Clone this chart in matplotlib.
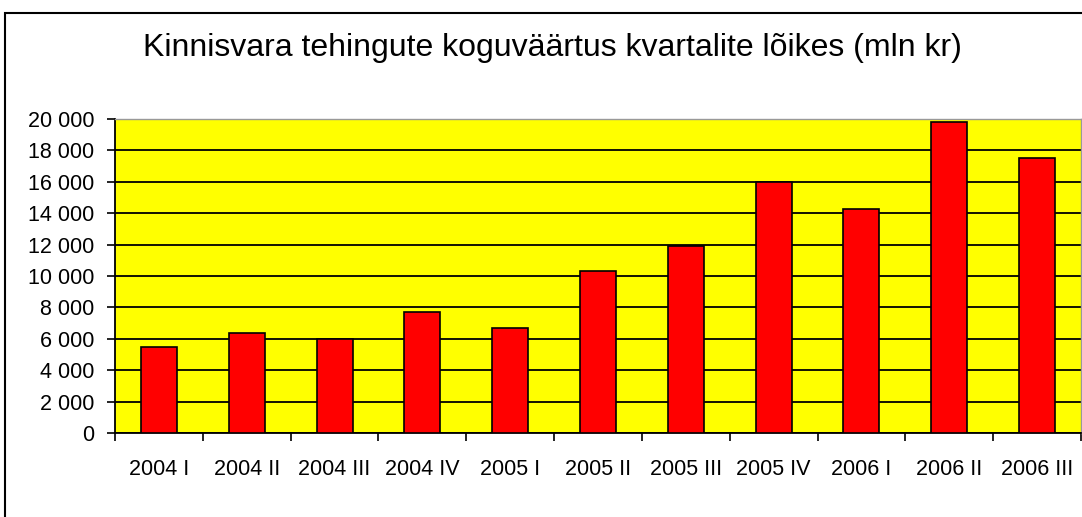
import matplotlib
matplotlib.use("Agg")
import matplotlib.pyplot as plt
from matplotlib.patches import Rectangle
import numpy as np

categories = ["2004 I", "2004 II", "2004 III", "2004 IV", "2005 I", "2005 II",
              "2005 III", "2005 IV", "2006 I", "2006 II", "2006 III"]
values = [5500, 6350, 6000, 7700, 6700, 10300, 11900, 16000, 14250, 19800, 17500]
yticks = [0, 2000, 4000, 6000, 8000, 10000, 12000, 14000, 16000, 18000, 20000]
ytick_labels = ["0", "2 000", "4 000", "6 000", "8 000", "10 000", "12 000",
                "14 000", "16 000", "18 000", "20 000"]
title = "Kinnisvara tehingute koguväärtus kvartalite lõikes (mln kr)"

plt.rcParams['font.family'] = ['Liberation Sans', 'DejaVu Sans']

W, H = 1082, 517
fig = plt.figure(figsize=(W / 100, H / 100), dpi=100)
fig.patch.set_facecolor("white")

# chart area border (cut off at right/bottom)
fig.patches.append(Rectangle((5 / W, -0.1), 1.2, (H - 13) / H + 0.1,
                             transform=fig.transFigure, fill=False,
                             edgecolor="black", linewidth=1.5, zorder=0))

left, right, top, bottom = 115, 1081, 119, 433
ax = fig.add_axes([left / W, 1 - bottom / H, (right - left) / W, (bottom - top) / H])
ax.set_facecolor("#FFFF00")

x = np.arange(len(categories))
ax.bar(x, values, width=0.41, color="#FF0000", edgecolor="black", linewidth=1.2, zorder=3)

ax.set_xlim(-0.5, len(categories) - 0.5)
ax.set_ylim(0, 20000)
ax.set_yticks(yticks)
ax.set_yticklabels(ytick_labels, fontsize=15.5)
ax.yaxis.grid(True, color="black", linewidth=1.3, zorder=1)
ax.set_axisbelow(True)

ax.set_xticks(x)
ax.set_xticklabels(categories, fontsize=15.5)
ax.set_xticks(np.arange(len(categories) + 1) - 0.5, minor=True)
ax.tick_params(axis="x", which="major", length=0, pad=19)
ax.tick_params(axis="x", which="minor", length=6, width=1.2, direction="out", color="black")
ax.tick_params(axis="y", length=6, width=1.2, direction="out", color="black", pad=9)

for s in ["left", "bottom"]:
    ax.spines[s].set_color("black")
    ax.spines[s].set_linewidth(1.3)
for s in ["top", "right"]:
    ax.spines[s].set_color("#999999")
    ax.spines[s].set_linewidth(1.0)

fig.text(552 / W, 1 - 48 / H, title, ha="center", va="center", fontsize=23)

fig.savefig("out.png", dpi=100)
